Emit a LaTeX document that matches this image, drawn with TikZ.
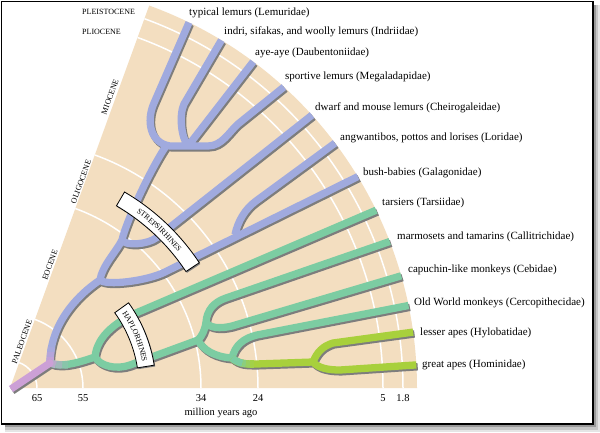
\documentclass[tikz,border=0pt]{standalone}
\usepackage{fontspec}
\setmainfont{Liberation Serif}
\usetikzlibrary{calc,decorations.text}
\definecolor{fanbg}{RGB}{243,222,192}
\definecolor{strepc}{RGB}{160,170,222}
\definecolor{haploc}{RGB}{124,204,162}
\definecolor{apec}{RGB}{168,208,60}
\definecolor{rootc}{RGB}{204,160,214}
\definecolor{shadowc}{RGB}{125,125,125}
\newcommand\bannerfont{\fontsize{7.8}{9}\selectfont}
\newcommand\strepPaths{
 (R) .. controls (50,325) and (76,296) .. (S1)
     .. controls (102,266) and (116,252) .. (S2)
     .. controls (126,222) and (150,170) .. (LM)
 (S1) .. controls (106,286) and (147,281) .. (165,272) -- (e7)
 (L) .. controls (238,221) and (245,209) .. (256,201) -- (e6)
 (S2) .. controls (125,246) and (147.6,244.8) .. (157,237.4) -- (e5)
 (e1) -- (154,103) .. controls (146,121) and (150,143) .. (170,146) -- (208,146) .. controls (222,146) and (229,132) .. (238,124) -- (e4)
 (IA) -- (e3)
 (IA) .. controls (181,137) and (179,115) .. (184,104) -- (e2)
}
\newcommand\haploPaths{
 (R) .. controls (62,368) and (80,362) .. (H1)
 (H1) .. controls (97,335) and (118,320) .. (143,310) -- (e8)
 (H1) .. controls (100,366) and (116,370) .. (130,365) -- (A1)
 (A1) .. controls (202,336) and (205,330) .. (P)
 (P) .. controls (207,310) and (214,302) .. (226,298) -- (e9)
 (P) .. controls (209,328) and (220,329) .. (232,326) -- (e10)
 (A1) .. controls (203,350) and (215,357) .. (Ct)
 (Ct) .. controls (235,345) and (244,338) .. (257,335) -- (e11)
}
\newcommand\apePaths{
 (Ct) .. controls (238,364) and (246,364) .. (256,364) -- (Hm)
 (Hm) .. controls (317,352) and (323,346) .. (333,343) -- (e12)
 (Hm) .. controls (318,368) and (328,370) .. (340,370) -- (e13)
}
\newcommand\rootPath{ (rs) -- (R) }
\begin{document}
\begin{tikzpicture}[x=1pt,y=-1pt,
  branch/.style={line width=7.3pt},
  shadowline/.style={line width=7.3pt, draw=shadowc, transform canvas={xshift=1.4pt,yshift=-1.9pt}},
  taxon/.style={anchor=west, inner sep=0pt, font=\fontsize{11}{13}\selectfont},
  tick/.style={inner sep=0pt, font=\fontsize{10.5}{12}\selectfont},
  epoch/.style={inner sep=0pt, font=\fontsize{8}{9}\selectfont},
  banner/.style={fill=white, draw=black, line width=0.8pt},
  timearc/.style={white, line width=1.5pt}]
\useasboundingbox (0,0) rectangle (600,432);
% frame with shadow
\fill[black!10] (5,5) rectangle (600,432);
\fill[black!22] (5,5) rectangle (598,430);
\fill[black!40] (5,5) rectangle (596,427);
\filldraw[fill=white, draw=black, line width=1.3pt] (1.2,1.2) rectangle (593,424);
% fan
\coordinate (C) at (10,388);
\fill[fanbg] (C) -- ++(407,0) arc[start angle=0,end angle=-70,radius=407] -- cycle;
\foreach \r in {27,73,191,248,373,393}
  \draw[timearc] ($(C)+(\r,0)$) arc[start angle=0,end angle=-70,radius=\r];
% tree points
\coordinate (rs) at (11,389);
\coordinate (R) at (50,363);
\coordinate (S1) at (100,280);
\coordinate (S2) at (122,240);
\coordinate (LM) at (166,146);
\coordinate (IA) at (188,146);
\coordinate (L) at (235,234.5);
\coordinate (H1) at (95,357);
\coordinate (A1) at (198,340);
\coordinate (P) at (206,322);
\coordinate (Ct) at (232,358);
\coordinate (Hm) at (313,362);
\coordinate (e1) at (189,22.5);
\coordinate (e2) at (221.4,40.2);
\coordinate (e3) at (253.2,61.7);
\coordinate (e4) at (283.9,87);
\coordinate (e5) at (312,115.1);
\coordinate (e6) at (335,143.1);
\coordinate (e7) at (357.8,176.6);
\coordinate (e8) at (376.1,210.2);
\coordinate (e9) at (389.7,241.5);
\coordinate (e10) at (401.2,275.8);
\coordinate (e11) at (408.5,305.5);
\coordinate (e12) at (413.1,332.1);
\coordinate (e13) at (416.3,364.9);
% shadows
\draw[shadowline] \strepPaths;
\draw[shadowline] \haploPaths;
\draw[shadowline] \apePaths;
\draw[shadowline] \rootPath;
% branches
\draw[branch, strepc] \strepPaths;
\draw[branch, haploc] \haploPaths;
\draw[branch, apec] \apePaths;
% green to lime blend
\draw[branch, haploc] (Ct) .. controls (234,360) and (238,362) .. (242.5,363.25);
\draw[branch, haploc!65!apec] (242.5,363.25) -- (246,363.8);
\draw[branch, haploc!35!apec] (246,363.8) -- (250,364);
\draw[branch, haploc!12!apec] (250,364) -- (254,364);
% root and blends
\draw[branch, rootc!15!strepc] (50.8,351.9) -- (51.6,347);
\draw[branch, rootc!45!strepc] (50.3,357) -- (50.8,351.9);
\draw[branch, rootc!75!strepc] (R) -- (50.3,357);
\draw[branch, rootc!15!haploc] (62.2,364.8) -- (68,364.9);
\draw[branch, rootc!45!haploc] (55.8,364.5) -- (62.2,364.8);
\draw[branch, rootc!75!haploc] (R) -- (55.8,364.5);
\draw[branch, rootc] \rootPath;
\fill[rootc] (R) circle[radius=3.65];
% banners
\fill[shadowc] ($(C)+(-59.7:211)+(1,1.3)$) arc[start angle=-59.7,end angle=-33.5,radius=211] -- ($(C)+(-33.5:227)+(1,1.3)$) arc[start angle=-33.5,end angle=-59.7,radius=227] -- cycle;
\draw[banner] ($(C)+(-59.7:211)$) arc[start angle=-59.7,end angle=-33.5,radius=211] -- ($(C)+(-33.5:227)$) arc[start angle=-33.5,end angle=-59.7,radius=227] -- cycle;
\path[decorate, decoration={text along path, text align=center, raise=-2.7pt, text={|\bannerfont|STREPSIRHINES}}] ($(C)+(-59.7:219)$) arc[start angle=-59.7,end angle=-33.5,radius=219];
\fill[shadowc] ($(C)+(-35.7:129)+(1,1.3)$) arc[start angle=-35.7,end angle=-9,radius=129] -- ($(C)+(-9:146)+(1,1.3)$) arc[start angle=-9,end angle=-35.7,radius=146] -- cycle;
\draw[banner] ($(C)+(-35.7:129)$) arc[start angle=-35.7,end angle=-9,radius=129] -- ($(C)+(-9:146)$) arc[start angle=-9,end angle=-35.7,radius=146] -- cycle;
\path[decorate, decoration={text along path, text align=center, raise=-2.7pt, text={|\bannerfont|HAPLORHINES}}] ($(C)+(-35.7:137.5)$) arc[start angle=-35.7,end angle=-9,radius=137.5];
% taxon labels
\node[taxon] (t1) at (189,13) {typical lemurs (Lemuridae)};
\node[taxon] (t2) at (224,32) {indri, sifakas, and woolly lemurs (Indriidae)};
\node[taxon] (t3) at (255,53) {aye-aye (Daubentoniidae)};
\node[taxon] (t4) at (285,77) {sportive lemurs (Megaladapidae)};
\node[taxon] (t5) at (315,108) {dwarf and mouse lemurs (Cheirogaleidae)};
\node[taxon] (t6) at (340,138) {angwantibos, pottos and lorises (Loridae)};
\node[taxon] (t7) at (363,173) {bush-babies (Galagonidae)};
\node[taxon] (t8) at (382,203) {tarsiers (Tarsiidae)};
\node[taxon] (t9) at (397,237) {marmosets and tamarins (Callitrichidae)};
\node[taxon] (t10) at (408,270) {capuchin-like monkeys (Cebidae)};
\node[taxon] (t11) at (414,303) {Old World monkeys (Cercopithecidae)};
\node[taxon] (t12) at (420,333) {lesser apes (Hylobatidae)};
\node[taxon] (t13) at (422,365) {great apes (Hominidae)};
% time axis
\node[tick] (m65) at (37,398) {65};
\node[tick] (m55) at (83,398) {55};
\node[tick] (m34) at (201,398) {34};
\node[tick] (m24) at (258,398) {24};
\node[tick] (m5) at (383,398) {5};
\node[tick] (m18) at (403,398) {1.8};
\node[tick] (myr) at (221,413) {million years ago};
% epochs
\node[epoch, anchor=west] (ple) at (82,12) {PLEISTOCENE};
\node[epoch, anchor=west] (pli) at (82,32) {PLIOCENE};
\node[epoch, rotate=70] (mio) at (110,97) {MIOCENE};
\node[epoch, rotate=70] (oli) at (81,182) {OLIGOCENE};
\node[epoch, rotate=70] (eoc) at (50,265) {EOCENE};
\node[epoch, rotate=70] (pal) at (22,342) {PALEOCENE};
\end{tikzpicture}
\end{document}
